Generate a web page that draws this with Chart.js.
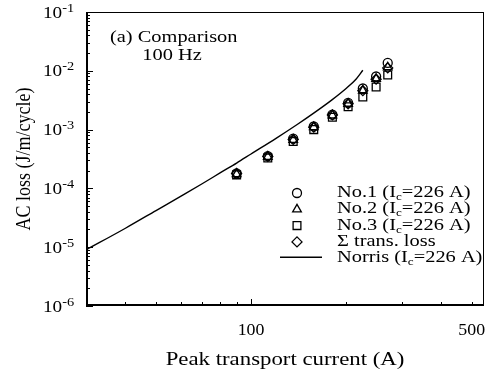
<!DOCTYPE html>
<html lang="en">
<head>
<meta charset="UTF-8">
<title>AC loss comparison, 100 Hz</title>
<script src="https://cdn.jsdelivr.net/npm/chart.js"></script>
<style>
  html, body { margin: 0; padding: 0; background: #fff; }
  canvas { display: block; }
</style>
</head>
<body>
<canvas id="lossChart" width="492" height="372"></canvas>
<script>
// peak transport current (A), same steps for all samples
const current = [90, 113, 136, 158, 181, 203, 226, 249, 271];
// measured AC loss (J/m/cycle)
const no1 = [1.8e-4, 3.55e-4, 7.0e-4, 1.13e-3, 1.8e-3, 2.85e-3, 5.0e-3, 8.0e-3, 1.36e-2];
const no2 = [1.75e-4, 3.45e-4, 6.7e-4, 1.1e-3, 1.75e-3, 2.75e-3, 4.6e-3, 7.3e-3, 1.15e-2];
const no3 = [1.7e-4, 3.3e-4, 6.3e-4, 1.0e-3, 1.62e-3, 2.45e-3, 3.6e-3, 5.3e-3, 8.5e-3];
const sumTrans = [1.8e-4, 3.5e-4, 6.8e-4, 1.1e-3, 1.78e-3, 2.75e-3, 4.6e-3, 7.2e-3, 1.12e-2];
// Norris curve
const norrisCurrent = [30, 40, 50, 60, 70, 80, 90, 100, 120, 140, 160, 180, 200, 215, 226];
const norrisLoss = [9e-6, 2.1e-5, 4.2e-5, 7.4e-5, 1.2e-4, 1.85e-4, 2.7e-4, 3.85e-4, 7.1e-4, 1.22e-3, 2.0e-3, 3.17e-3, 5.0e-3, 7.2e-3, 1.02e-2];

// axis ticks
const yExponents = [-1, -2, -3, -4, -5, -6];
const xLabels = [100, 500];
const xMinor = [40, 50, 60, 70, 80, 90, 200, 300, 400, 500];

const FONT = '"Liberation Serif", "Times New Roman", serif';
const SX = 1.2; // the scanned lettering is a bit wider than Times

// draw a row of text pieces [text, size, dy]
function runs(ctx, parts, x, y, align, sx, rotate) {
  let w = 0;
  for (const p of parts) {
    ctx.font = p[1] + 'px ' + FONT;
    p.w = ctx.measureText(p[0]).width;
    w += p.w;
  }
  ctx.save();
  ctx.translate(x, y);
  if (rotate) { ctx.rotate(-Math.PI / 2); ctx.scale(1, sx); }
  else ctx.scale(sx, 1);
  let cx = align === 'center' ? -w / 2 : align === 'right' ? -w : 0;
  ctx.fillStyle = '#000';
  ctx.textAlign = 'left';
  ctx.textBaseline = 'alphabetic';
  for (const p of parts) {
    ctx.font = p[1] + 'px ' + FONT;
    ctx.fillText(p[0], cx, p[2] || 0);
    cx += p.w;
  }
  ctx.restore();
}

const pts = (xs, ys) => xs.map((v, i) => ({ x: v, y: ys[i] }));

const marker = (label, data, style, r) => ({
  label: label,
  data: data,
  pointStyle: style,
  pointRadius: r,
  pointBorderWidth: 1.3,
  borderColor: '#000',
  backgroundColor: 'rgba(0,0,0,0)',
  showLine: false
});

const datasets = [
  {
    label: 'Norris (Ic=226 A)',
    data: pts(norrisCurrent, norrisLoss),
    showLine: true,
    pointRadius: 0,
    borderColor: '#000',
    borderWidth: 1.4,
    cubicInterpolationMode: 'monotone'
  },
  marker('No.3 (Ic=226 A)', pts(current, no3), 'rect', 5.5),
  marker('No.2 (Ic=226 A)', pts(current, no2), 'triangle', 5),
  marker('Σ trans. loss', pts(current, sumTrans), 'rectRot', 5),
  marker('No.1 (Ic=226 A)', pts(current, no1), 'circle', 4.5)
];

const legendRows = [
  { style: 'circle', r: 4.5, parts: [['No.1 (I', 17], ['c', 11, 3], ['=226 A)', 17]] },
  { style: 'triangle', r: 5, parts: [['No.2 (I', 17], ['c', 11, 3], ['=226 A)', 17]] },
  { style: 'rect', r: 5.5, parts: [['No.3 (I', 17], ['c', 11, 3], ['=226 A)', 17]] },
  { style: 'rectRot', r: 5, parts: [['Σ trans. loss', 17]] },
  { style: 'line', parts: [['Norris (I', 17], ['c', 11, 3], ['=226 A)', 17]] }
];

const framePlugin = {
  id: 'frame',
  afterDraw(chart) {
    const ctx = chart.ctx;
    const a = chart.chartArea;
    const xs = chart.scales.x, ys = chart.scales.y;
    ctx.save();
    ctx.strokeStyle = '#000';

    // box: heavy left/bottom, light top/right
    ctx.lineWidth = 1;
    ctx.beginPath();
    ctx.moveTo(a.left, a.top + 0.5); ctx.lineTo(a.right, a.top + 0.5);
    ctx.moveTo(a.right - 0.5, a.top); ctx.lineTo(a.right - 0.5, a.bottom);
    ctx.stroke();
    ctx.lineWidth = 2;
    ctx.beginPath();
    ctx.moveTo(a.left + 1, a.top); ctx.lineTo(a.left + 1, a.bottom);
    ctx.moveTo(a.left, a.bottom - 1); ctx.lineTo(a.right, a.bottom - 1);
    ctx.stroke();

    // y ticks, inward
    ctx.lineWidth = 1;
    ctx.beginPath();
    yExponents.forEach(e => {
      const y = Math.round(ys.getPixelForValue(Math.pow(10, e))) + 0.5;
      ctx.moveTo(a.left, y); ctx.lineTo(a.left + 7, y);
    });
    for (let e = -6; e < -1; e++) {
      for (let m = 2; m <= 9; m++) {
        const y = Math.round(ys.getPixelForValue(m * Math.pow(10, e))) + 0.5;
        ctx.moveTo(a.left, y); ctx.lineTo(a.left + 4, y);
      }
    }
    // x ticks, inward
    xMinor.forEach(v => {
      const x = Math.round(xs.getPixelForValue(v)) + 0.5;
      ctx.moveTo(x, a.bottom); ctx.lineTo(x, a.bottom - 4);
    });
    const x100 = Math.round(xs.getPixelForValue(100)) + 0.5;
    ctx.moveTo(x100, a.bottom); ctx.lineTo(x100, a.bottom - 7);
    ctx.stroke();

    // y tick labels 10^n
    yExponents.forEach(e => {
      const y = ys.getPixelForValue(Math.pow(10, e));
      runs(ctx, [['10', 16], [String(e), 12, -6]], 43, y + 5.5, 'left', SX);
    });
    // x tick labels
    xLabels.forEach(v => {
      runs(ctx, [[String(v), 17]], xs.getPixelForValue(v), 335, 'center', 1.05);
    });

    // axis titles
    runs(ctx, [['Peak transport current (A)', 19]], (a.left + a.right) / 2, 365, 'center', SX);
    runs(ctx, [['AC loss (J/m/cycle)', 18]], 30, (a.top + a.bottom) / 2, 'center', SX, true);

    // panel note
    runs(ctx, [['(a) Comparison', 17]], 110, 42, 'left', SX);
    runs(ctx, [['100 Hz', 17]], 172, 60, 'center', SX);

    // legend
    ctx.fillStyle = 'rgba(0,0,0,0)';
    legendRows.forEach((row, i) => {
      const base = 197 + i * 16.3;
      if (row.style === 'line') {
        ctx.lineWidth = 1.4;
        ctx.beginPath();
        ctx.moveTo(280, base - 5); ctx.lineTo(322, base - 5);
        ctx.stroke();
      } else {
        ctx.lineWidth = 1.3;
        ctx.fillStyle = 'rgba(0,0,0,0)';
        Chart.helpers.drawPoint(ctx, { pointStyle: row.style, radius: row.r, borderWidth: 1.3 }, 297, base - 4);
      }
      runs(ctx, row.parts, 337, base, 'left', SX);
    });
    ctx.restore();
  }
};

new Chart(document.getElementById('lossChart'), {
  type: 'scatter',
  data: { datasets: datasets },
  options: {
    responsive: false,
    animation: false,
    layout: { padding: { left: 86, right: 8, top: 12, bottom: 66 } },
    plugins: { legend: { display: false }, tooltip: { enabled: false } },
    scales: {
      x: { type: 'logarithmic', min: 30, max: 547, display: false },
      y: { type: 'logarithmic', min: 1e-6, max: 1e-1, display: false }
    }
  },
  plugins: [framePlugin]
});
</script>
</body>
</html>
